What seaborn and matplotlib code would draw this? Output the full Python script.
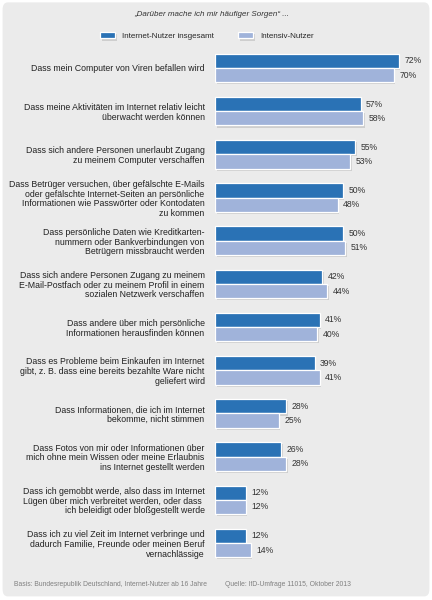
import pandas as pd
import matplotlib
matplotlib.use("Agg")
import matplotlib.pyplot as plt
import matplotlib.patheffects as pe
from matplotlib.patches import FancyBboxPatch
import seaborn as sns

# Data
concerns = [
    "Dass mein Computer von Viren befallen wird",
    "Dass meine Aktivitäten im Internet relativ leicht\nüberwacht werden können",
    "Dass sich andere Personen unerlaubt Zugang\nzu meinem Computer verschaffen",
    "Dass Betrüger versuchen, über gefälschte E-Mails\noder gefälschte Internet-Seiten an persönliche\nInformationen wie Passwörter oder Kontodaten\nzu kommen",
    "Dass persönliche Daten wie Kreditkarten-\nnummern oder Bankverbindungen von\nBetrügern missbraucht werden",
    "Dass sich andere Personen Zugang zu meinem\nE-Mail-Postfach oder zu meinem Profil in einem\nsozialen Netzwerk verschaffen",
    "Dass andere über mich persönliche\nInformationen herausfinden können",
    "Dass es Probleme beim Einkaufen im Internet\ngibt, z. B. dass eine bereits bezahlte Ware nicht\ngeliefert wird",
    "Dass Informationen, die ich im Internet\nbekomme, nicht stimmen",
    "Dass Fotos von mir oder Informationen über\nmich ohne mein Wissen oder meine Erlaubnis\nins Internet gestellt werden",
    "Dass ich gemobbt werde, also dass im Internet\nLügen über mich verbreitet werden, oder dass \nich beleidigt oder bloßgestellt werde",
    "Dass ich zu viel Zeit im Internet verbringe und\ndadurch Familie, Freunde oder meinen Beruf\nvernachlässige",
]
all_users = [72, 57, 55, 50, 50, 42, 41, 39, 28, 26, 12, 12]
heavy_users = [70, 58, 53, 48, 51, 44, 40, 41, 25, 28, 12, 14]
series = ["Internet-Nutzer insgesamt", "Intensiv-Nutzer"]

title = "„Darüber mache ich mir häufiger Sorgen“ ..."
note_left = "Basis: Bundesrepublik Deutschland, Internet-Nutzer ab 16 Jahre"
note_right = "Quelle: IfD-Umfrage 11015, Oktober 2013"

df = pd.DataFrame({
    "concern": concerns * 2,
    "value": all_users + heavy_users,
    "group": [series[0]] * len(concerns) + [series[1]] * len(concerns),
})

sns.set_theme(style="white")
plt.rcParams["font.family"] = ["Liberation Sans", "DejaVu Sans"]

fig = plt.figure(figsize=(4.32, 6), dpi=100)
fig.patch.set_facecolor("white")
bg = FancyBboxPatch((0.006, 0.006), 0.988, 0.99, boxstyle="round,pad=0,rounding_size=0.012",
                    transform=fig.transFigure, facecolor="#ebebeb", edgecolor="none", zorder=-10)
fig.patches.append(bg)

ax = fig.add_axes([215 / 432, 1 - 564.6 / 600, 1 - 215 / 432, (564.6 - 46.4) / 600])
ax.set_facecolor("none")
ax.set_zorder(1)

palette = {series[0]: "#2a72b5", series[1]: "#a0b3da"}
sns.barplot(data=df, y="concern", x="value", hue="group", hue_order=series,
            palette=palette, orient="h", width=0.66, saturation=1,
            edgecolor="white", linewidth=0.9, ax=ax)

shadow = [pe.SimplePatchShadow(offset=(1.2, -1.5), shadow_rgbFace="#000000", alpha=0.12), pe.Normal()]
for bar in ax.patches:
    bar.set_path_effects(shadow)

for cont in ax.containers:
    ax.bar_label(cont, labels=[f"{v:.0f}%" for v in cont.datavalues], padding=4,
                 fontsize=6.2, color="#333333")

ax.set_xlim(0, 85)
ax.set_ylim(11.5, -0.5)
ax.set_xlabel("")
ax.set_ylabel("")
ax.set_xticks([])
ax.tick_params(axis="y", length=0, pad=7.5, labelsize=6.3, labelcolor="#222222")
for lbl in ax.get_yticklabels():
    lbl.set_multialignment("right")
    lbl.set_linespacing(1.1)
sns.despine(ax=ax, left=True, bottom=True)

handles, labels = ax.get_legend_handles_labels()
ax.legend_.remove()
leg = fig.legend(handles, labels, loc="center", bbox_to_anchor=(0.479, 1 - 36 / 600), ncol=2,
                 frameon=False, fontsize=5.8, handlelength=1.86, handleheight=0.85,
                 columnspacing=3.0, handletextpad=0.87, borderpad=0, borderaxespad=0)
for h in leg.legend_handles:
    h.set_path_effects(shadow)

fig.text(0.49, 1 - 15 / 600, title, ha="center", va="center", fontsize=5.8,
         style="italic", color="#333333")
fig.text(14 / 432, 1 - 585 / 600, note_left, ha="left", va="center", fontsize=4.85, color="#808080")
fig.text(225 / 432, 1 - 585 / 600, note_right, ha="left", va="center", fontsize=4.85, color="#808080")

fig.savefig("out.png", dpi=100)
